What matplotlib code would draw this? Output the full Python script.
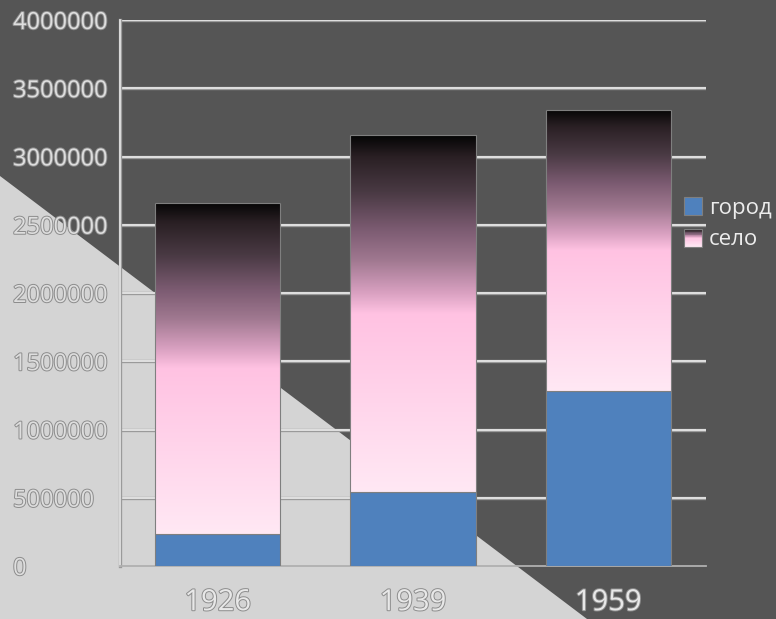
import matplotlib
matplotlib.use("Agg")
import matplotlib.pyplot as plt
import numpy as np
from matplotlib.patches import Polygon, Rectangle
from matplotlib.colors import LinearSegmentedColormap
from matplotlib.legend_handler import HandlerBase
import matplotlib.patheffects as pe

# ---- data ----
years = ["1926", "1939", "1959"]
city = [235000, 540000, 1280000]      # город
village = [2425000, 2615000, 2060000]  # село
series_labels = ["город", "село"]
yticks = [0, 500000, 1000000, 1500000, 2000000, 2500000, 3000000, 3500000, 4000000]

FONT = "Open Sans"
DARK = "#555555"
LIGHT = "#d4d4d4"
BLUE = "#4f81bd"

cmap = LinearSegmentedColormap.from_list(
    "selo",
    [(0.0, "#ffe8f4"), (0.50, "#ffc2e2"), (0.56, "#d8a0c0"), (0.65, "#a07890"),
     (0.74, "#7a5a70"), (0.84, "#4a3a44"), (0.94, "#2a2024"), (1.0, "#050505")])

W, H = 776, 619
fig = plt.figure(figsize=(W / 100, H / 100), dpi=100, facecolor=DARK)
tri = Polygon([(0, 1 - 176 / H), (0, 0), (587 / W, 0)], closed=True,
              transform=fig.transFigure, facecolor=LIGHT, edgecolor="none", zorder=-5)
fig.add_artist(tri)

ax = fig.add_axes([120 / W, 1 - 566 / H, (706 - 120) / W, (566 - 20) / H])
ax.set_facecolor("none")

x = np.arange(len(years))
width = 0.643
ax.bar(x, city, width, color=BLUE, edgecolor="#7f7f7f", linewidth=0.8, zorder=3)
sbars = ax.bar(x, village, width, bottom=city, color="none", edgecolor="#7f7f7f",
               linewidth=0.8, zorder=4)
grad = np.linspace(0, 1, 256).reshape(-1, 1)
for b in sbars:
    x0, y0 = b.get_x(), b.get_y()
    im = ax.imshow(grad, cmap=cmap, origin="lower", aspect="auto",
                   extent=[x0, x0 + b.get_width(), y0, y0 + b.get_height()], zorder=3.5)
    im.set_clip_path(b)

ax.set_xlim(-0.5, 2.5)
ax.set_ylim(0, 4000000)
ax.set_yticks(yticks)
ax.set_yticklabels([str(v) for v in yticks])
ax.set_xticks(x)
ax.set_xticklabels(years)

grid_pe = [pe.Stroke(linewidth=2.4, foreground="#9a9a9a"), pe.Normal()]
for v in yticks[1:]:
    ax.axhline(v, color="#ececec", linewidth=1.2, zorder=1, path_effects=grid_pe)

for s in ["top", "right"]:
    ax.spines[s].set_visible(False)
ax.spines["left"].set_color("#e6e6e6")
ax.spines["left"].set_linewidth(1.2)
ax.spines["left"].set_path_effects(grid_pe)
ax.spines["bottom"].set_color("#b0b0b0")
ax.spines["bottom"].set_linewidth(1.3)

txt_pe = [pe.Stroke(linewidth=1.4, foreground="#8c8c8c"), pe.Normal()]
ax.tick_params(axis="y", length=0, pad=77, labelsize=17, labelcolor="#dedede")
ax.tick_params(axis="x", length=0, pad=16, labelsize=21, labelcolor="#e8e8e8")
for lab in ax.get_yticklabels():
    lab.set_ha("left")
    lab.set_fontfamily(FONT)
    lab.set_path_effects(txt_pe)
for lab in ax.get_xticklabels():
    lab.set_fontfamily(FONT)
    lab.set_path_effects(txt_pe)


class GradHandler(HandlerBase):
    def create_artists(self, legend, orig_handle, xdescent, ydescent, width, height,
                       fontsize, trans):
        arts = []
        n = 24
        side = width
        y0 = -ydescent + (height - side) / 2
        for i in range(n):
            c = cmap(1 - (i + 0.5) / n)
            r = Rectangle((-xdescent, y0 + side - (i + 1) * side / n), side, side / n,
                          facecolor=c, edgecolor="none", transform=trans)
            arts.append(r)
        arts.append(Rectangle((-xdescent, y0), side, side, facecolor="none",
                              edgecolor="#7f7f7f", linewidth=0.8, transform=trans))
        return arts


class SquareHandler(HandlerBase):
    def create_artists(self, legend, orig_handle, xdescent, ydescent, width, height,
                       fontsize, trans):
        side = width
        y0 = -ydescent + (height - side) / 2
        return [Rectangle((-xdescent, y0), side, side, facecolor=BLUE,
                          edgecolor="#7f7f7f", linewidth=0.8, transform=trans)]


h1 = Rectangle((0, 0), 1, 1)
h2 = Rectangle((0, 0), 1, 1)
leg = fig.legend([h1, h2], series_labels, handler_map={h1: SquareHandler(), h2: GradHandler()},
                 loc="center left", bbox_to_anchor=(684 / W, 1 - 224 / H), frameon=False,
                 prop={"family": FONT, "size": 16}, handlelength=0.82, handleheight=0.82,
                 handletextpad=0.3, labelspacing=0.45, borderpad=0, borderaxespad=0)
for t in leg.get_texts():
    t.set_color("#ececec")

fig.savefig("out.png", dpi=100, facecolor=DARK)
